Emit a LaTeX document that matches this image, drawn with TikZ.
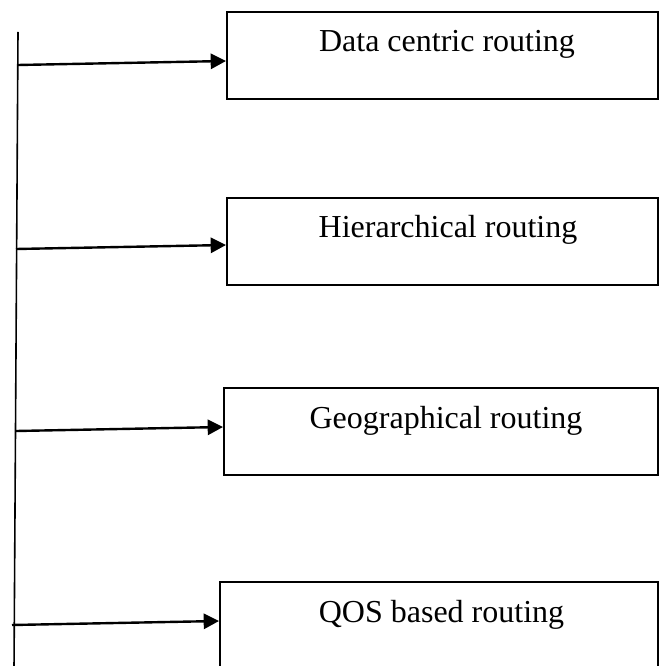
\documentclass[tikz,border=0pt]{standalone}
\usepackage{fontspec}
\setmainfont{Liberation Serif}
\usetikzlibrary{arrows.meta}
\begin{document}
\begin{tikzpicture}[x=0.75pt,y=-0.75pt,
  box/.style={draw, line width=1.5pt, rectangle, anchor=north west, inner sep=0pt},
  lbl/.style={anchor=base, inner sep=0pt, font=\fontsize{24pt}{28pt}\selectfont},
  arr/.style={line width=1.8pt, -{Triangle[length=11.5pt,width=11.5pt]}},
  spine/.style={line width=1.2pt}]
\useasboundingbox (0,0) rectangle (659,666);
\clip (0,0) rectangle (659,666);
% boxes
\node[box, minimum width=323.25pt, minimum height=65.25pt] (b1) at (226,11) {};
\node[box, minimum width=323.25pt, minimum height=65.25pt] (b2) at (226,197) {};
\node[box, minimum width=325.5pt, minimum height=65.25pt] (b3) at (223,387) {};
\node[box, minimum width=328.5pt, minimum height=80pt] (b4) at (219,581) {};
% labels
\node[lbl] (t1) at (447,52) {Data centric routing};
\node[lbl] (t2) at (448,238) {Hierarchical routing};
\node[lbl] (t3) at (446,428) {Geographical routing};
\node[lbl] (t4) at (441.5,622) {QOS based routing};
% spine
\coordinate (top) at (18,32);
\coordinate (bot) at (14,670);
\draw[spine] (top) -- (bot);
% arrow ends
\coordinate (s1) at (18,65);  \coordinate (e1) at (226,61);
\coordinate (s2) at (16,249); \coordinate (e2) at (226,245);
\coordinate (s3) at (16,431); \coordinate (e3) at (223,427);
\coordinate (s4) at (12,625); \coordinate (e4) at (219,621);
\draw[arr] (s1) -- (e1);
\draw[arr] (s2) -- (e2);
\draw[arr] (s3) -- (e3);
\draw[arr] (s4) -- (e4);
\end{tikzpicture}
\end{document}
